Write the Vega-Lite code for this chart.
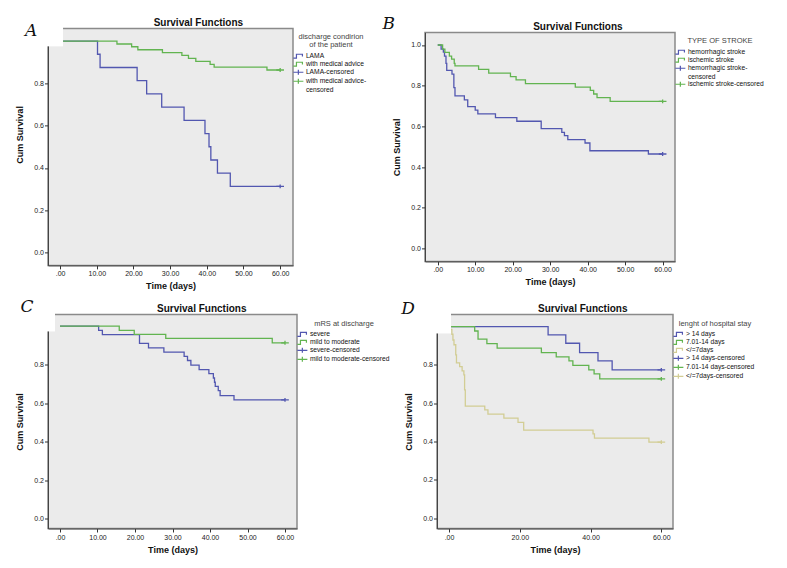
{
  "$schema": "https://vega.github.io/schema/vega-lite/v6.json",
  "background": "white",
  "padding": {"left": 15, "top": 14, "right": 5, "bottom": 5},
  "spacing": 4.5,
  "resolve": {"scale": {"color": "independent", "shape": "independent"}, "legend": {"color": "independent", "shape": "independent"}},
  "datasets": {
    "A": [
      {"g": "LAMA", "t": 0, "s": 1}, {"g": "LAMA", "t": 10.2, "s": 0.9375}, {"g": "LAMA", "t": 10.9, "s": 0.875},
      {"g": "LAMA", "t": 21.0, "s": 0.8125}, {"g": "LAMA", "t": 23.6, "s": 0.75}, {"g": "LAMA", "t": 27.7, "s": 0.6875},
      {"g": "LAMA", "t": 33.8, "s": 0.625}, {"g": "LAMA", "t": 39.5, "s": 0.5625}, {"g": "LAMA", "t": 40.6, "s": 0.5},
      {"g": "LAMA", "t": 41.1, "s": 0.4375}, {"g": "LAMA", "t": 42.9, "s": 0.375}, {"g": "LAMA", "t": 46.4, "s": 0.3125},
      {"g": "LAMA", "t": 60, "s": 0.3125},
      {"g": "with medical advice", "t": 0, "s": 1}, {"g": "with medical advice", "t": 15.5, "s": 0.986},
      {"g": "with medical advice", "t": 19.5, "s": 0.973}, {"g": "with medical advice", "t": 21.2, "s": 0.959},
      {"g": "with medical advice", "t": 27.9, "s": 0.945}, {"g": "with medical advice", "t": 33.2, "s": 0.932},
      {"g": "with medical advice", "t": 35.0, "s": 0.918}, {"g": "with medical advice", "t": 37.0, "s": 0.904},
      {"g": "with medical advice", "t": 40.9, "s": 0.890}, {"g": "with medical advice", "t": 42.0, "s": 0.877},
      {"g": "with medical advice", "t": 56.4, "s": 0.863}, {"g": "with medical advice", "t": 60, "s": 0.863}
    ],
    "Ac": [
      {"g": "LAMA-censored", "t": 60, "s": 0.3125},
      {"g": "with medical advice-censored", "t": 60, "s": 0.863}
    ],
    "B": [
      {"g": "hemorrhagic stroke", "t": 0, "s": 1}, {"g": "hemorrhagic stroke", "t": 0.9, "s": 0.98},
      {"g": "hemorrhagic stroke", "t": 1.5, "s": 0.965}, {"g": "hemorrhagic stroke", "t": 1.8, "s": 0.945},
      {"g": "hemorrhagic stroke", "t": 2.2, "s": 0.91}, {"g": "hemorrhagic stroke", "t": 2.4, "s": 0.875},
      {"g": "hemorrhagic stroke", "t": 3.8, "s": 0.857}, {"g": "hemorrhagic stroke", "t": 4.3, "s": 0.79},
      {"g": "hemorrhagic stroke", "t": 4.6, "s": 0.75}, {"g": "hemorrhagic stroke", "t": 7.1, "s": 0.73},
      {"g": "hemorrhagic stroke", "t": 8.0, "s": 0.697}, {"g": "hemorrhagic stroke", "t": 10.0, "s": 0.68},
      {"g": "hemorrhagic stroke", "t": 10.7, "s": 0.661}, {"g": "hemorrhagic stroke", "t": 15.4, "s": 0.643},
      {"g": "hemorrhagic stroke", "t": 21.1, "s": 0.625}, {"g": "hemorrhagic stroke", "t": 27.6, "s": 0.589},
      {"g": "hemorrhagic stroke", "t": 33.1, "s": 0.57}, {"g": "hemorrhagic stroke", "t": 33.8, "s": 0.554},
      {"g": "hemorrhagic stroke", "t": 34.7, "s": 0.535}, {"g": "hemorrhagic stroke", "t": 39.3, "s": 0.518},
      {"g": "hemorrhagic stroke", "t": 40.6, "s": 0.48}, {"g": "hemorrhagic stroke", "t": 56.2, "s": 0.464},
      {"g": "hemorrhagic stroke", "t": 60, "s": 0.464},
      {"g": "ischemic stroke", "t": 0, "s": 1}, {"g": "ischemic stroke", "t": 1.3, "s": 0.98},
      {"g": "ischemic stroke", "t": 1.9, "s": 0.964}, {"g": "ischemic stroke", "t": 3.1, "s": 0.945},
      {"g": "ischemic stroke", "t": 3.7, "s": 0.93}, {"g": "ischemic stroke", "t": 4.4, "s": 0.91},
      {"g": "ischemic stroke", "t": 4.6, "s": 0.897}, {"g": "ischemic stroke", "t": 10.9, "s": 0.88},
      {"g": "ischemic stroke", "t": 13.6, "s": 0.862}, {"g": "ischemic stroke", "t": 19.4, "s": 0.844},
      {"g": "ischemic stroke", "t": 20.9, "s": 0.828}, {"g": "ischemic stroke", "t": 23.4, "s": 0.81},
      {"g": "ischemic stroke", "t": 36.7, "s": 0.793}, {"g": "ischemic stroke", "t": 40.7, "s": 0.777},
      {"g": "ischemic stroke", "t": 41.6, "s": 0.759}, {"g": "ischemic stroke", "t": 42.5, "s": 0.741},
      {"g": "ischemic stroke", "t": 46.0, "s": 0.723}, {"g": "ischemic stroke", "t": 60, "s": 0.723}
    ],
    "Bc": [
      {"g": "hemorrhagic stroke-censored", "t": 60, "s": 0.464},
      {"g": "ischemic stroke-censored", "t": 60, "s": 0.723}
    ],
    "C": [
      {"g": "severe", "t": 0, "s": 1}, {"g": "severe", "t": 10.3, "s": 0.977}, {"g": "severe", "t": 11.3, "s": 0.955},
      {"g": "severe", "t": 21.2, "s": 0.91}, {"g": "severe", "t": 23.6, "s": 0.887}, {"g": "severe", "t": 27.7, "s": 0.864},
      {"g": "severe", "t": 33.1, "s": 0.842}, {"g": "severe", "t": 34.0, "s": 0.821}, {"g": "severe", "t": 34.9, "s": 0.797},
      {"g": "severe", "t": 37.1, "s": 0.774}, {"g": "severe", "t": 39.7, "s": 0.753}, {"g": "severe", "t": 40.9, "s": 0.73},
      {"g": "severe", "t": 41.2, "s": 0.708}, {"g": "severe", "t": 41.4, "s": 0.687}, {"g": "severe", "t": 42.2, "s": 0.664},
      {"g": "severe", "t": 42.7, "s": 0.638}, {"g": "severe", "t": 46.4, "s": 0.616}, {"g": "severe", "t": 60, "s": 0.616},
      {"g": "mild to moderate", "t": 0, "s": 1}, {"g": "mild to moderate", "t": 15.8, "s": 0.978},
      {"g": "mild to moderate", "t": 19.8, "s": 0.957}, {"g": "mild to moderate", "t": 28.2, "s": 0.936},
      {"g": "mild to moderate", "t": 56.6, "s": 0.913}, {"g": "mild to moderate", "t": 60, "s": 0.913}
    ],
    "Cc": [
      {"g": "severe-censored", "t": 60, "s": 0.616},
      {"g": "mild to moderate-censored", "t": 60, "s": 0.913}
    ],
    "D": [
      {"g": "> 14 days", "t": 0, "s": 1}, {"g": "> 14 days", "t": 28.0, "s": 0.957}, {"g": "> 14 days", "t": 33.0, "s": 0.913},
      {"g": "> 14 days", "t": 36.9, "s": 0.864}, {"g": "> 14 days", "t": 42.1, "s": 0.821}, {"g": "> 14 days", "t": 46.1, "s": 0.774},
      {"g": "> 14 days", "t": 60, "s": 0.774},
      {"g": "7.01-14 days", "t": 0, "s": 1}, {"g": "7.01-14 days", "t": 7.25, "s": 0.977}, {"g": "7.01-14 days", "t": 8.2, "s": 0.934},
      {"g": "7.01-14 days", "t": 10.7, "s": 0.911}, {"g": "7.01-14 days", "t": 13.6, "s": 0.887}, {"g": "7.01-14 days", "t": 26.1, "s": 0.864},
      {"g": "7.01-14 days", "t": 30.3, "s": 0.842}, {"g": "7.01-14 days", "t": 33.9, "s": 0.821}, {"g": "7.01-14 days", "t": 35.0, "s": 0.797},
      {"g": "7.01-14 days", "t": 39.5, "s": 0.774}, {"g": "7.01-14 days", "t": 41.0, "s": 0.753}, {"g": "7.01-14 days", "t": 42.6, "s": 0.727},
      {"g": "7.01-14 days", "t": 60, "s": 0.727},
      {"g": "</=7days", "t": 0, "s": 1}, {"g": "</=7days", "t": 0.4, "s": 0.985}, {"g": "</=7days", "t": 0.8, "s": 0.96},
      {"g": "</=7days", "t": 1.1, "s": 0.93}, {"g": "</=7days", "t": 1.4, "s": 0.905}, {"g": "</=7days", "t": 1.9, "s": 0.852},
      {"g": "</=7days", "t": 2.1, "s": 0.81}, {"g": "</=7days", "t": 3.0, "s": 0.791}, {"g": "</=7days", "t": 3.7, "s": 0.769},
      {"g": "</=7days", "t": 4.2, "s": 0.748}, {"g": "</=7days", "t": 4.4, "s": 0.67}, {"g": "</=7days", "t": 4.6, "s": 0.585},
      {"g": "</=7days", "t": 10.1, "s": 0.565}, {"g": "</=7days", "t": 11.0, "s": 0.543}, {"g": "</=7days", "t": 15.5, "s": 0.522},
      {"g": "</=7days", "t": 19.5, "s": 0.5}, {"g": "</=7days", "t": 21.1, "s": 0.46}, {"g": "</=7days", "t": 40.7, "s": 0.44},
      {"g": "</=7days", "t": 41.1, "s": 0.418}, {"g": "</=7days", "t": 56.5, "s": 0.397}, {"g": "</=7days", "t": 60, "s": 0.397}
    ],
    "Dc": [
      {"g": "> 14 days-censored", "t": 60, "s": 0.774},
      {"g": "7.01-14 days-censored", "t": 60, "s": 0.727},
      {"g": "</=7days-censored", "t": 60, "s": 0.397}
    ]
  },
  "vconcat": [
    {
      "spacing": 8,
      "center": true,
      "resolve": {"scale": {"color": "independent", "shape": "independent"}, "legend": {"color": "independent", "shape": "independent"}},
      "hconcat": [
        {
          "width": 245, "height": 237,
          "layer": [
            {
              "data": {"name": "A"},
              "mark": {"type": "line", "interpolate": "step-after", "strokeWidth": 1.3},
              "encoding": {
                "x": {"field": "t", "type": "quantitative", "title": "Time (days)", "scale": {"domain": [-3.3, 63.5], "nice": false, "zero": false}, "axis": {"values": [0, 10, 20, 30, 40, 50, 60], "labelExpr": "datum.value == 0 ? '.00' : format(datum.value, '.2f')"}},
                "y": {"field": "s", "type": "quantitative", "title": "Cum Survival", "scale": {"domain": [-0.061, 1.06], "nice": false, "zero": false}, "axis": {"values": [0, 0.2, 0.4, 0.6, 0.8], "format": ".1f", "titleY": 106}},
                "color": {"field": "g", "type": "nominal", "scale": {"domain": ["LAMA", "with medical advice", "LAMA-censored", "with medical advice-censored"], "range": ["#5257b0", "#62b450", "#5257b0", "#62b450"]}}
              }
            },
            {
              "data": {"name": "Ac"},
              "mark": {"type": "point", "filled": false, "size": 7, "strokeWidth": 1.3, "opacity": 1},
              "encoding": {
                "x": {"field": "t", "type": "quantitative", "title": "Time (days)"},
                "y": {"field": "s", "type": "quantitative", "title": "Cum Survival"},
                "color": {"field": "g", "type": "nominal", "legend": {"title": ["discharge condirion", "of the patient"], "labelExpr": "datum.label == 'with medical advice-censored' ? ['with medical advice-', 'censored'] : datum.label"}},
                "shape": {"field": "g", "type": "nominal", "scale": {"domain": ["LAMA", "with medical advice", "LAMA-censored", "with medical advice-censored"], "range": ["M-2.9,1.15L-1.1,1.15L-1.1,-1.15L2.35,-1.15L2.35,0.2", "M-2.9,1.15L-1.1,1.15L-1.1,-1.15L2.35,-1.15L2.35,0.2", "M-2.9,0L2.9,0M0,-1.45L0,1.45", "M-2.9,0L2.9,0M0,-1.45L0,1.45"]}, "legend": {"title": ["discharge condirion", "of the patient"], "labelExpr": "datum.label == 'with medical advice-censored' ? ['with medical advice-', 'censored'] : datum.label"}}
              }
            },
            {
              "data": {"values": [{}]},
              "mark": {"type": "rect", "color": "white", "opacity": 1},
              "encoding": {
                "x": {"datum": -6.85, "type": "quantitative", "title": "Time (days)"},
                "x2": {"datum": 0.8},
                "y": {"datum": 0.975, "type": "quantitative", "title": "Cum Survival"},
                "y2": {"datum": 1.075}
              }
            },
            {
              "data": {"values": [{}]},
              "mark": {"type": "text", "font": "DejaVu Serif", "fontStyle": "italic", "fontSize": 17, "align": "center", "baseline": "middle", "color": "#111"},
              "encoding": {
                "x": {"datum": -7.9, "type": "quantitative", "title": "Time (days)"},
                "y": {"datum": 1.046, "type": "quantitative", "title": "Cum Survival"},
                "text": {"value": "A"}
              }
            },
            {
              "data": {"values": [{}]},
              "mark": {"type": "text", "font": "Liberation Sans", "fontSize": 10, "fontWeight": "bold", "align": "center", "baseline": "alphabetic", "color": "#111"},
              "encoding": {
                "x": {"datum": 37.7, "type": "quantitative", "title": "Time (days)"},
                "y": {"datum": 1.072, "type": "quantitative", "title": "Cum Survival"},
                "text": {"value": "Survival Functions"}
              }
            }
          ]
        },
        {
          "width": 250, "height": 229,
          "layer": [
            {
              "data": {"name": "B"},
              "mark": {"type": "line", "interpolate": "step-after", "strokeWidth": 1.3},
              "encoding": {
                "x": {"field": "t", "type": "quantitative", "title": "Time (days)", "scale": {"domain": [-3.4, 63.3], "nice": false, "zero": false}, "axis": {"values": [0, 10, 20, 30, 40, 50, 60], "labelExpr": "datum.value == 0 ? '.00' : format(datum.value, '.2f')"}},
                "y": {"field": "s", "type": "quantitative", "title": "Cum Survival", "scale": {"domain": [-0.064, 1.062], "nice": false, "zero": false}, "axis": {"values": [0, 0.2, 0.4, 0.6, 0.8, 1.0], "format": ".1f"}},
                "color": {"field": "g", "type": "nominal", "scale": {"domain": ["hemorrhagic stroke", "ischemic stroke", "hemorrhagic stroke-censored", "ischemic stroke-censored"], "range": ["#5257b0", "#62b450", "#5257b0", "#62b450"]}}
              }
            },
            {
              "data": {"name": "Bc"},
              "mark": {"type": "point", "filled": false, "size": 7, "strokeWidth": 1.3, "opacity": 1},
              "encoding": {
                "x": {"field": "t", "type": "quantitative", "title": "Time (days)"},
                "y": {"field": "s", "type": "quantitative", "title": "Cum Survival"},
                "color": {"field": "g", "type": "nominal", "legend": {"title": "TYPE OF STROKE", "labelExpr": "datum.label == 'hemorrhagic stroke-censored' ? ['hemorrhagic stroke-', 'censored'] : datum.label"}},
                "shape": {"field": "g", "type": "nominal", "scale": {"domain": ["hemorrhagic stroke", "ischemic stroke", "hemorrhagic stroke-censored", "ischemic stroke-censored"], "range": ["M-2.9,1.15L-1.1,1.15L-1.1,-1.15L2.35,-1.15L2.35,0.2", "M-2.9,1.15L-1.1,1.15L-1.1,-1.15L2.35,-1.15L2.35,0.2", "M-2.9,0L2.9,0M0,-1.45L0,1.45", "M-2.9,0L2.9,0M0,-1.45L0,1.45"]}, "legend": {"title": "TYPE OF STROKE", "labelExpr": "datum.label == 'hemorrhagic stroke-censored' ? ['hemorrhagic stroke-', 'censored'] : datum.label"}}
              }
            },
            {
              "data": {"values": [{}]},
              "mark": {"type": "text", "font": "DejaVu Serif", "fontStyle": "italic", "fontSize": 17, "align": "center", "baseline": "middle", "color": "#111"},
              "encoding": {
                "x": {"datum": -13.1, "type": "quantitative", "title": "Time (days)"},
                "y": {"datum": 1.104, "type": "quantitative", "title": "Cum Survival"},
                "text": {"value": "B"}
              }
            },
            {
              "data": {"values": [{}]},
              "mark": {"type": "text", "font": "Liberation Sans", "fontSize": 10, "fontWeight": "bold", "align": "center", "baseline": "alphabetic", "color": "#111"},
              "encoding": {
                "x": {"datum": 37.4, "type": "quantitative", "title": "Time (days)"},
                "y": {"datum": 1.074, "type": "quantitative", "title": "Cum Survival"},
                "text": {"value": "Survival Functions"}
              }
            }
          ]
        }
      ]
    },
    {
      "spacing": 4,
      "resolve": {"scale": {"color": "independent", "shape": "independent"}, "legend": {"color": "independent", "shape": "independent"}},
      "hconcat": [
        {
          "width": 249, "height": 214,
          "layer": [
            {
              "data": {"name": "C"},
              "mark": {"type": "line", "interpolate": "step-after", "strokeWidth": 1.3},
              "encoding": {
                "x": {"field": "t", "type": "quantitative", "title": "Time (days)", "scale": {"domain": [-3.2, 63.2], "nice": false, "zero": false}, "axis": {"values": [0, 10, 20, 30, 40, 50, 60], "labelExpr": "datum.value == 0 ? '.00' : format(datum.value, '.2f')"}},
                "y": {"field": "s", "type": "quantitative", "title": "Cum Survival", "scale": {"domain": [-0.052, 1.06], "nice": false, "zero": false}, "axis": {"values": [0, 0.2, 0.4, 0.6, 0.8], "format": ".1f"}},
                "color": {"field": "g", "type": "nominal", "scale": {"domain": ["severe", "mild to moderate", "severe-censored", "mild to moderate-censored"], "range": ["#5257b0", "#62b450", "#5257b0", "#62b450"]}}
              }
            },
            {
              "data": {"name": "Cc"},
              "mark": {"type": "point", "filled": false, "size": 7, "strokeWidth": 1.3, "opacity": 1},
              "encoding": {
                "x": {"field": "t", "type": "quantitative", "title": "Time (days)"},
                "y": {"field": "s", "type": "quantitative", "title": "Cum Survival"},
                "color": {"field": "g", "type": "nominal", "legend": {"title": "mRS at discharge"}},
                "shape": {"field": "g", "type": "nominal", "scale": {"domain": ["severe", "mild to moderate", "severe-censored", "mild to moderate-censored"], "range": ["M-2.9,1.15L-1.1,1.15L-1.1,-1.15L2.35,-1.15L2.35,0.2", "M-2.9,1.15L-1.1,1.15L-1.1,-1.15L2.35,-1.15L2.35,0.2", "M-2.9,0L2.9,0M0,-1.45L0,1.45", "M-2.9,0L2.9,0M0,-1.45L0,1.45"]}, "legend": {"title": "mRS at discharge"}}
              }
            },
            {
              "data": {"values": [{}]},
              "mark": {"type": "rect", "color": "white", "opacity": 1},
              "encoding": {
                "x": {"datum": -6.9, "type": "quantitative", "title": "Time (days)"},
                "x2": {"datum": -1.33},
                "y": {"datum": 0.972, "type": "quantitative", "title": "Cum Survival"},
                "y2": {"datum": 1.075}
              }
            },
            {
              "data": {"values": [{}]},
              "mark": {"type": "text", "font": "DejaVu Serif", "fontStyle": "italic", "fontSize": 17, "align": "center", "baseline": "middle", "color": "#111"},
              "encoding": {
                "x": {"datum": -8.8, "type": "quantitative", "title": "Time (days)"},
                "y": {"datum": 1.099, "type": "quantitative", "title": "Cum Survival"},
                "text": {"value": "C"}
              }
            },
            {
              "data": {"values": [{}]},
              "mark": {"type": "text", "font": "Liberation Sans", "fontSize": 10, "fontWeight": "bold", "align": "center", "baseline": "alphabetic", "color": "#111"},
              "encoding": {
                "x": {"datum": 37.8, "type": "quantitative", "title": "Time (days)"},
                "y": {"datum": 1.073, "type": "quantitative", "title": "Cum Survival"},
                "text": {"value": "Survival Functions"}
              }
            }
          ]
        },
        {
          "width": 236, "height": 214,
          "layer": [
            {
              "data": {"name": "D"},
              "mark": {"type": "line", "interpolate": "step-after", "strokeWidth": 1.3},
              "encoding": {
                "x": {"field": "t", "type": "quantitative", "title": "Time (days)", "scale": {"domain": [-3.4, 63.3], "nice": false, "zero": false}, "axis": {"values": [0, 10, 20, 30, 40, 50, 60], "labelExpr": "datum.value == 0 ? '.00' : format(datum.value, '.2f')"}},
                "y": {"field": "s", "type": "quantitative", "title": "Cum Survival", "scale": {"domain": [-0.054, 1.063], "nice": false, "zero": false}, "axis": {"values": [0, 0.2, 0.4, 0.6, 0.8], "format": ".1f"}},
                "color": {"field": "g", "type": "nominal", "scale": {"domain": ["> 14 days", "7.01-14 days", "</=7days", "> 14 days-censored", "7.01-14 days-censored", "</=7days-censored"], "range": ["#5257b0", "#62b450", "#d2cd94", "#5257b0", "#62b450", "#d2cd94"]}}
              }
            },
            {
              "data": {"name": "Dc"},
              "mark": {"type": "point", "filled": false, "size": 7, "strokeWidth": 1.3, "opacity": 1},
              "encoding": {
                "x": {"field": "t", "type": "quantitative", "title": "Time (days)"},
                "y": {"field": "s", "type": "quantitative", "title": "Cum Survival"},
                "color": {"field": "g", "type": "nominal", "legend": {"title": "lenght of hospital stay"}},
                "shape": {"field": "g", "type": "nominal", "scale": {"domain": ["> 14 days", "7.01-14 days", "</=7days", "> 14 days-censored", "7.01-14 days-censored", "</=7days-censored"], "range": ["M-2.9,1.15L-1.1,1.15L-1.1,-1.15L2.35,-1.15L2.35,0.2", "M-2.9,1.15L-1.1,1.15L-1.1,-1.15L2.35,-1.15L2.35,0.2", "M-2.9,1.15L-1.1,1.15L-1.1,-1.15L2.35,-1.15L2.35,0.2", "M-2.9,0L2.9,0M0,-1.45L0,1.45", "M-2.9,0L2.9,0M0,-1.45L0,1.45", "M-2.9,0L2.9,0M0,-1.45L0,1.45"]}, "legend": {"title": "lenght of hospital stay"}}
              }
            },
            {
              "data": {"values": [{}]},
              "mark": {"type": "rect", "color": "white", "opacity": 1},
              "encoding": {
                "x": {"datum": -7.6, "type": "quantitative", "title": "Time (days)"},
                "x2": {"datum": 0.55},
                "y": {"datum": 0.964, "type": "quantitative", "title": "Cum Survival"},
                "y2": {"datum": 1.075}
              }
            },
            {
              "data": {"values": [{}]},
              "mark": {"type": "text", "font": "DejaVu Serif", "fontStyle": "italic", "fontSize": 17, "align": "center", "baseline": "middle", "color": "#111"},
              "encoding": {
                "x": {"datum": -11.6, "type": "quantitative", "title": "Time (days)"},
                "y": {"datum": 1.092, "type": "quantitative", "title": "Cum Survival"},
                "text": {"value": "D"}
              }
            },
            {
              "data": {"values": [{}]},
              "mark": {"type": "text", "font": "Liberation Sans", "fontSize": 10, "fontWeight": "bold", "align": "center", "baseline": "alphabetic", "color": "#111"},
              "encoding": {
                "x": {"datum": 37.8, "type": "quantitative", "title": "Time (days)"},
                "y": {"datum": 1.076, "type": "quantitative", "title": "Cum Survival"},
                "text": {"value": "Survival Functions"}
              }
            }
          ]
        }
      ]
    }
  ],
  "config": {
    "font": "Liberation Sans",
    "view": {"fill": "#ebebeb", "stroke": "#8a8a8a", "strokeWidth": 1.5},
    "axis": {"grid": false, "domain": true, "domainColor": "#444", "domainWidth": 1, "tickColor": "#333", "tickSize": 3.5, "labelFontSize": 7, "labelFont": "Liberation Sans", "labelColor": "#222", "labelPadding": 1, "titleFont": "Liberation Sans", "titleFontSize": 9, "titleFontWeight": "bold", "titleColor": "#111"},
    "axisX": {"titlePadding": 5},
    "axisY": {"titlePadding": 9},
    "legend": {"orient": "right", "offset": -2.7, "padding": 5, "titleFont": "Liberation Sans", "titleFontSize": 7.5, "titleFontWeight": "normal", "titleColor": "#444", "titleAnchor": "middle", "titleAlign": "center", "titlePadding": 4, "titleLineHeight": 8, "titleLimit": 300, "labelFont": "Liberation Sans", "labelFontSize": 6.7, "labelColor": "#111", "labelOffset": 4.2, "labelLimit": 300, "symbolSize": 12, "symbolStrokeWidth": 1.2, "rowPadding": -2.8}
  }
}
